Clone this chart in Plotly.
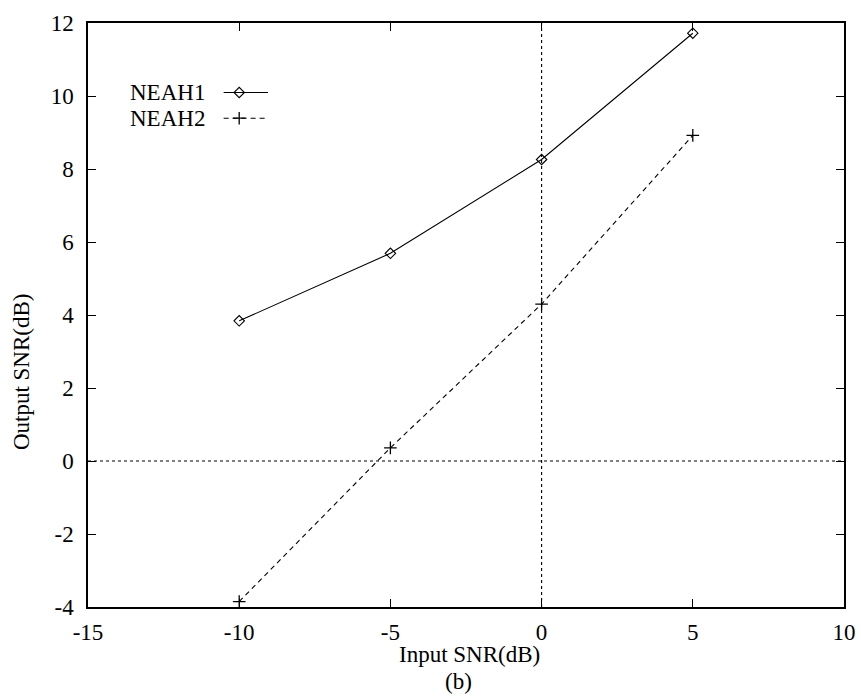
import plotly.graph_objects as go

# Output SNR versus input SNR for the two enhancement methods
input_snr = [-10, -5, 0, 5]
neah1_snr = [3.84, 5.69, 8.26, 11.72]
neah2_snr = [-3.85, 0.36, 4.30, 8.92]
series_names = ["NEAH1", "NEAH2"]

x_ticks = [-15, -10, -5, 0, 5, 10]
y_ticks = [-4, -2, 0, 2, 4, 6, 8, 10, 12]

FONT = "Liberation Serif, Times New Roman, serif"
FS = 23

fig = go.Figure()

fig.add_trace(go.Scatter(
    x=input_snr, y=neah1_snr, mode="lines+markers", name=series_names[0],
    line=dict(color="black", width=1.1),
    marker=dict(symbol="diamond-open", size=8, color="black", line=dict(width=1.1)),
    showlegend=False,
))
fig.add_trace(go.Scatter(
    x=input_snr, y=neah2_snr, mode="lines+markers", name=series_names[1],
    line=dict(color="black", width=1.1, dash="5px,4px"),
    marker=dict(symbol="cross-thin-open", size=9, color="black", line=dict(width=1.3, color="black")),
    showlegend=False,
))

# Key: label on the left, line sample with marker on the right
key_y = [0.881, 0.837]
key_dash = ["solid", "5px,4px"]
key_sym = ["diamond-open", "cross-thin-open"]
for i, name in enumerate(series_names):
    fig.add_trace(go.Scatter(
        x=[0.1794, 0.2381], y=[key_y[i], key_y[i]], mode="lines",
        line=dict(color="black", width=1.1, dash=key_dash[i]),
        xaxis="x2", yaxis="y2", showlegend=False, hoverinfo="skip",
    ))
    fig.add_trace(go.Scatter(
        x=[0.2000], y=[key_y[i]], mode="markers",
        marker=dict(symbol=key_sym[i], size=8 if i == 0 else 9, color="black",
                    line=dict(width=1.1 if i == 0 else 1.3, color="black")),
        xaxis="x2", yaxis="y2", showlegend=False, hoverinfo="skip",
    ))
    fig.add_annotation(
        x=0.158, y=key_y[i], xref="x2", yref="y2", text=name, showarrow=False,
        xanchor="right", yanchor="middle", font=dict(family=FONT, size=FS, color="black"),
    )

# Dotted zero axes
fig.add_shape(type="line", xref="x", yref="paper", x0=0, x1=0, y0=0, y1=1,
              line=dict(color="black", width=1.1, dash="dot"), layer="below")
fig.add_shape(type="line", xref="paper", yref="y", x0=0, x1=1, y0=0, y1=0,
              line=dict(color="black", width=1.1, dash="dot"), layer="below")

axis_common = dict(
    showgrid=False, zeroline=False, showline=True, linecolor="black", linewidth=1.5,
    mirror="ticks", ticks="inside", ticklen=8, tickwidth=1.2, tickcolor="black",
    tickfont=dict(family=FONT, size=FS, color="black"), automargin=False,
)

fig.update_layout(
    width=861, height=700,
    margin=dict(l=88, r=17, t=23, b=93),
    paper_bgcolor="white", plot_bgcolor="white",
    xaxis=dict(range=[-15, 10], tickvals=x_ticks, ticktext=[str(v) for v in x_ticks],
               ticklabelstandoff=4, **axis_common),
    yaxis=dict(range=[-4, 12], tickvals=y_ticks, ticktext=[str(v) for v in y_ticks],
               ticklabelstandoff=8, **axis_common),
    xaxis2=dict(domain=[0, 1], range=[0, 1], overlaying="x", visible=False, fixedrange=True),
    yaxis2=dict(domain=[0, 1], range=[0, 1], overlaying="y", visible=False, fixedrange=True),
    showlegend=False,
    annotations=list(fig.layout.annotations) + [
        dict(text="Input SNR(dB)", xref="paper", yref="paper", x=0.505, y=-0.081,
             xanchor="center", yanchor="middle", showarrow=False,
             font=dict(family=FONT, size=FS, color="black")),
        dict(text="(b)", xref="paper", yref="paper", x=0.49, y=-0.128,
             xanchor="center", yanchor="middle", showarrow=False,
             font=dict(family=FONT, size=FS, color="black")),
        dict(text="Output SNR(dB)", xref="paper", yref="paper", x=-0.088, y=0.403,
             xanchor="center", yanchor="middle", showarrow=False, textangle=-90,
             font=dict(family=FONT, size=FS, color="black")),
    ],
)

fig.write_html("out.html")
